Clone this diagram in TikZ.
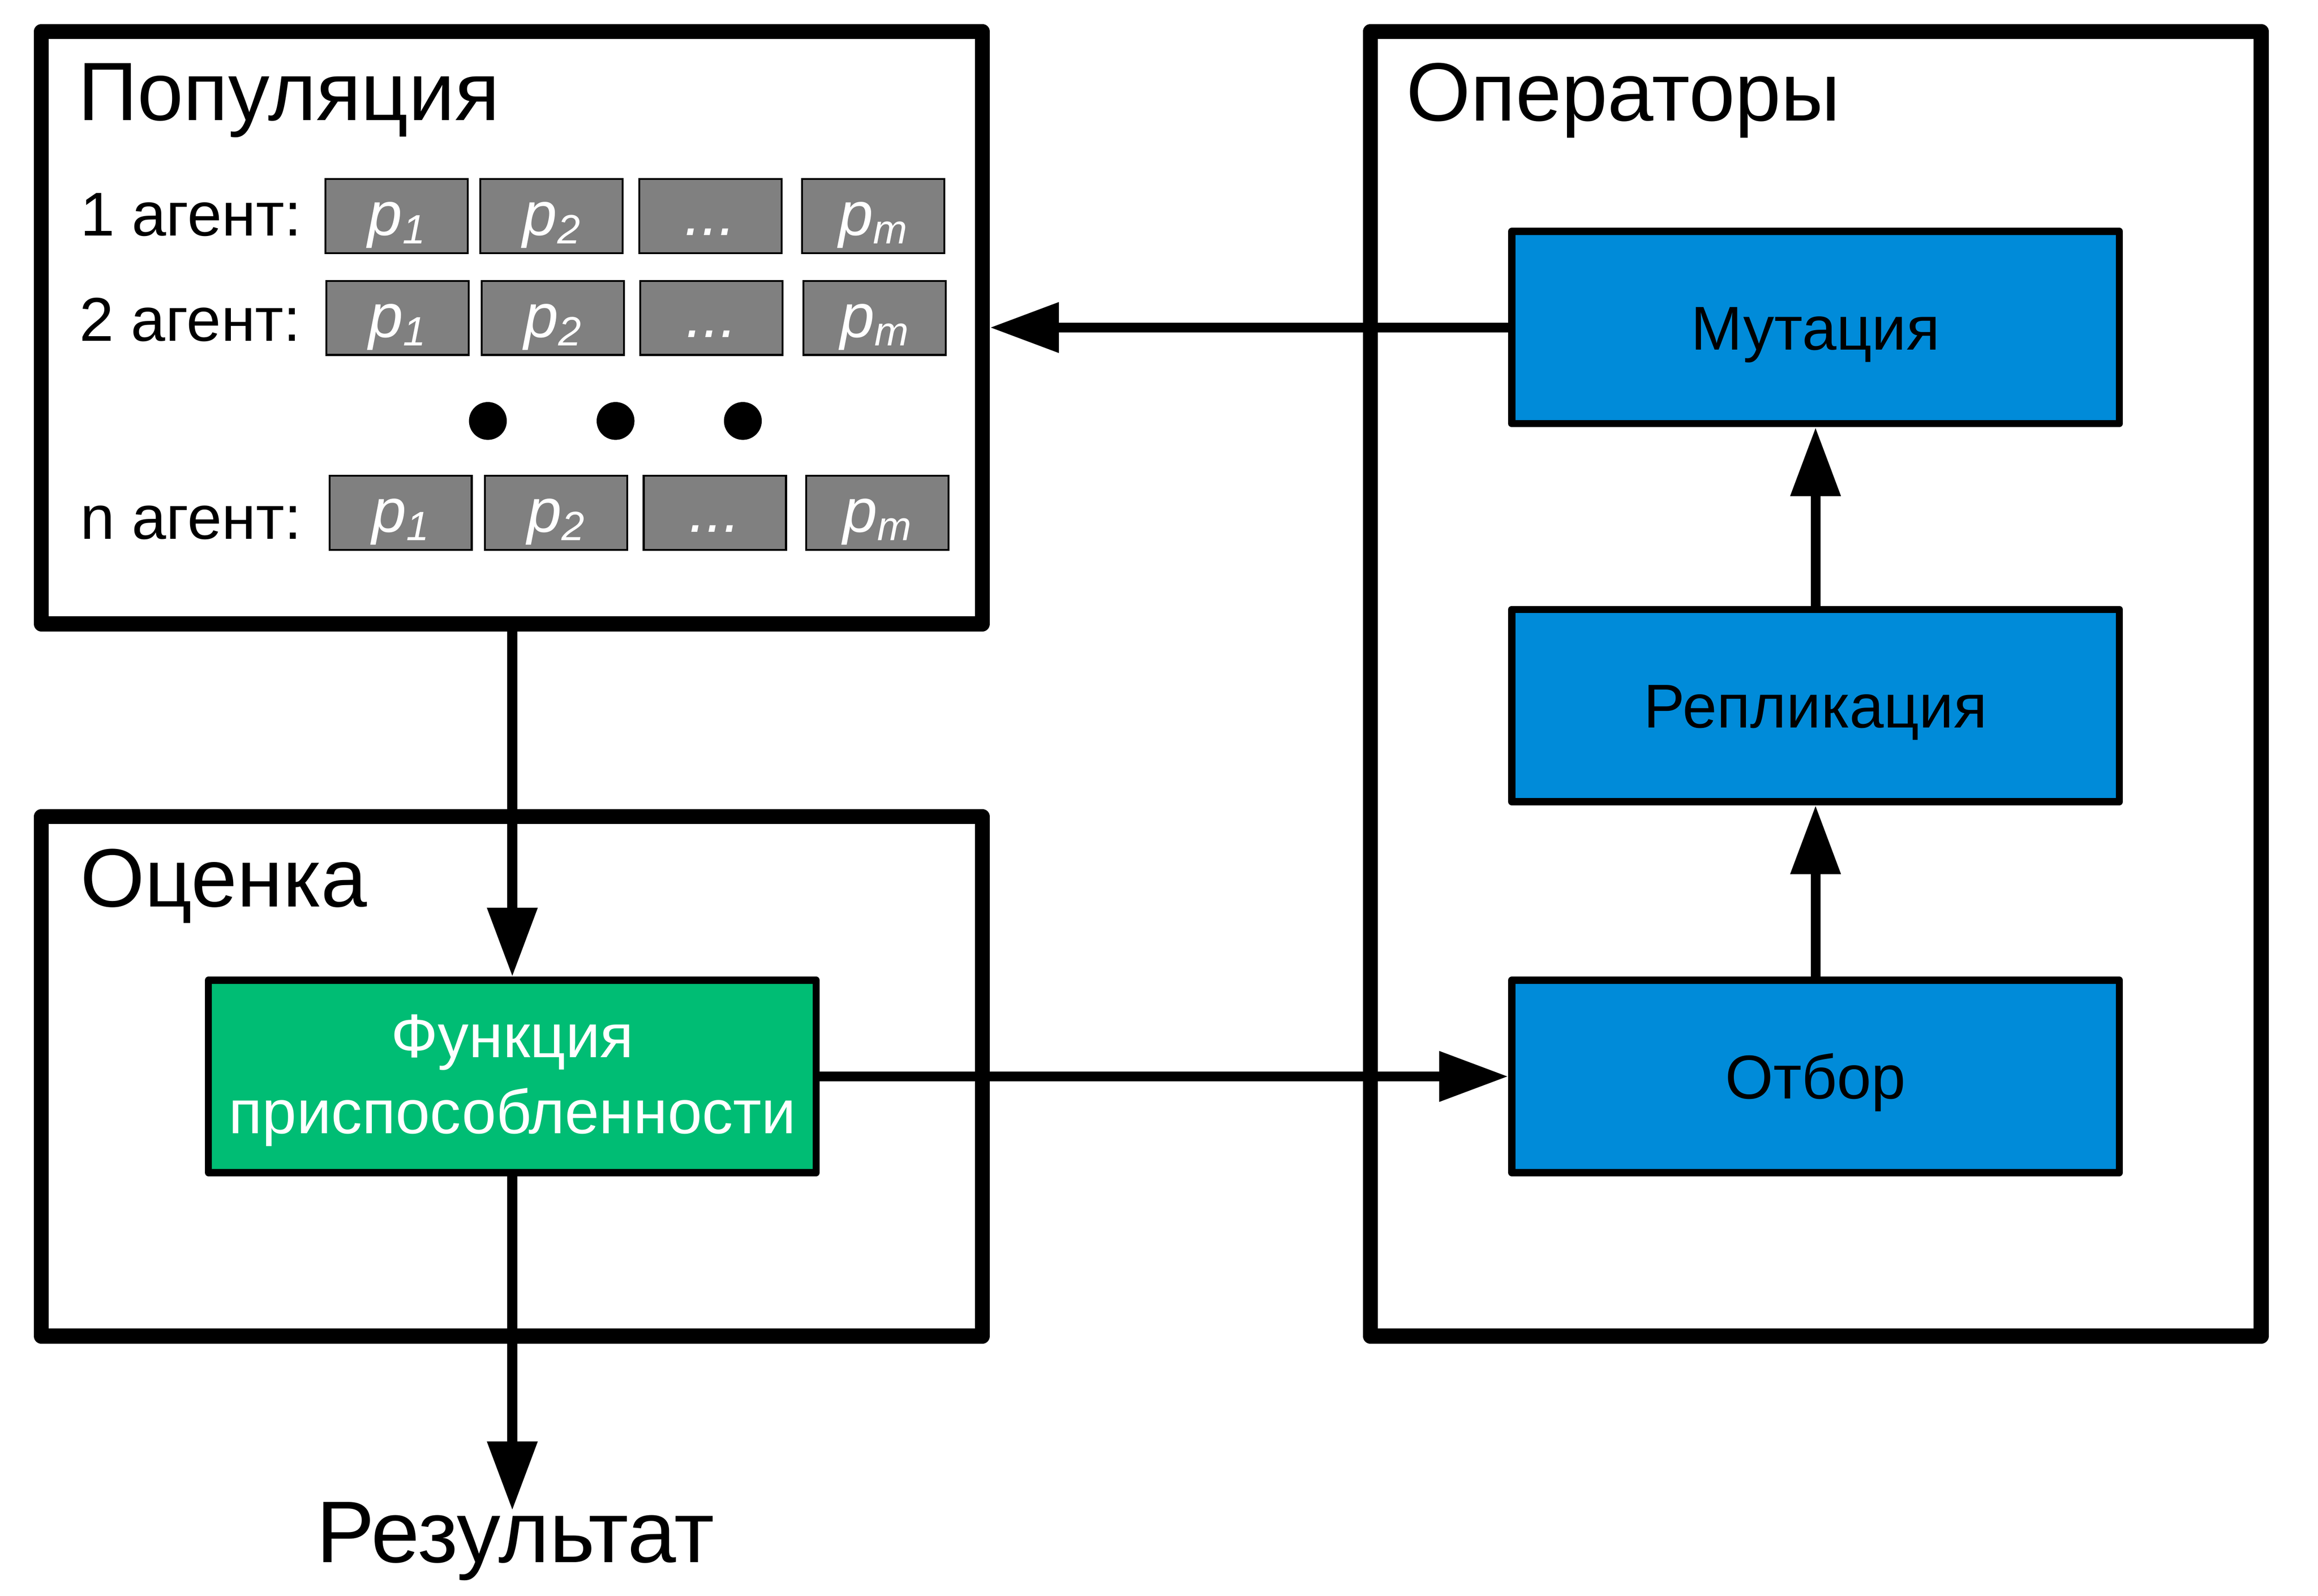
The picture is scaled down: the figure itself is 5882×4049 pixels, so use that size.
\documentclass[tikz,border=0pt]{standalone}
\usepackage{fontspec}
\setmainfont{Liberation Sans}
\usetikzlibrary{arrows.meta}
\definecolor{opblue}{RGB}{0,139,217}
\definecolor{fitgreen}{RGB}{0,189,116}
\definecolor{cellgray}{RGB}{128,128,128}
\newcommand\fsz[1]{\fontsize{#1}{#1}\selectfont}
\newcommand\pcell[1]{\itshape p\raisebox{-2.1pt}{\fsz{10.4}\itshape #1}}
\begin{document}
\begin{tikzpicture}[x=0.1pt,y=-0.1pt,
  bigbox/.style={draw, line width=3.8pt, line join=round, inner sep=0pt},
  opbox/.style={draw, line width=1.8pt, line join=round, fill=opblue,
    minimum width=154.2pt, minimum height=48.8pt, inner sep=0pt,
    text height=11.24pt, text depth=0pt, font=\fsz{15.7}},
  fitbox/.style={draw, line width=1.8pt, line join=round, fill=fitgreen,
    minimum width=154.2pt, minimum height=48.8pt, inner sep=0pt},
  fitlbl/.style={anchor=base, inner sep=0pt, text=white, font=\fsz{15.7}},
  title/.style={anchor=base west, inner sep=0pt, font=\fsz{21.0}},
  agent/.style={anchor=base west, inner sep=0pt, font=\fsz{15.7}},
  cell/.style={draw=black, line width=0.5pt, fill=cellgray, text=white,
    minimum width=36.1pt, minimum height=18.8pt, inner sep=0pt,
    text height=9.8pt, text depth=0pt, font=\fsz{15.7}},
  bigdot/.style={circle, fill=black, minimum size=9.6pt, inner sep=0pt},
  conn/.style={line width=2.5pt, -{Triangle[length=17.5pt,width=12.2pt]}}
]
\useasboundingbox (0,0) rectangle (5882,4049);

% big frames
\node[bigbox, minimum width=238.8pt, minimum height=150.3pt] (pop) at (1299,831.5) {};
\node[bigbox, minimum width=238.8pt, minimum height=131.8pt] (eval) at (1299,2731) {};
\node[bigbox, minimum width=226.1pt, minimum height=331.0pt] (ops) at (4607.5,1735) {};

% titles
\node[title] (poptitle) at (196,305) {Популяция};
\node[title] (evaltitle) at (202,2300) {Оценка};
\node[title] (opstitle) at (3567,306) {Операторы};

% agent rows
\node[agent] (a1) at (202,598) {1 агент:};
\node[agent] (a2) at (200,865) {2 агент:};
\node[agent] (an) at (202,1368) {n агент:};

\node[cell] (c11) at (1006.5,548) {\pcell{1}};
\node[cell] (c12) at (1399.5,548) {\pcell{2}};
\node[cell] (c13) at (1802.5,548) {\itshape ...};
\node[cell] (c14) at (2215.5,548) {\pcell{m}};

\node[cell] (c21) at (1008.5,806.5) {\pcell{1}};
\node[cell] (c22) at (1402.5,806.5) {\pcell{2}};
\node[cell] (c23) at (1805.5,806.5) {\itshape ...};
\node[cell] (c24) at (2219.5,806.5) {\pcell{m}};

\node[cell] (c31) at (1016.5,1301) {\pcell{1}};
\node[cell] (c32) at (1411,1301) {\pcell{2}};
\node[cell] (c33) at (1814,1301) {\itshape ...};
\node[cell] (c34) at (2226.5,1301) {\pcell{m}};

\node[bigdot] (d1) at (1238,1068) {};
\node[bigdot] (d2) at (1562,1068) {};
\node[bigdot] (d3) at (1885,1068) {};

% operator boxes
\node[opbox] (mut) at (4607,831) {Мутация};
\node[opbox] (rep) at (4607,1790) {Репликация};
\node[opbox] (sel) at (4607,2731) {Отбор};

% fitness box
\node[fitbox] (fit) at (1300,2731) {};
\node[fitlbl] (fit1) at (1300,2683) {Функция};
\node[fitlbl] (fit2) at (1300,2876) {приспособленности};

% result
\node[anchor=base, inner sep=0pt, font=\fsz{22.2}] (res) at (1308,3964) {Результат};
\coordinate (resin) at (1300,3832);

% connectors
\draw[conn] (mut.west) -- (mut.west -| pop.east);
\draw[conn] (pop.south -| fit.north) -- (fit.north);
\draw[conn] (fit.east) -- (sel.west);
\draw[conn] (sel.north) -- (rep.south);
\draw[conn] (rep.north) -- (mut.south);
\draw[conn] (fit.south) -- (resin);
\end{tikzpicture}
\end{document}
